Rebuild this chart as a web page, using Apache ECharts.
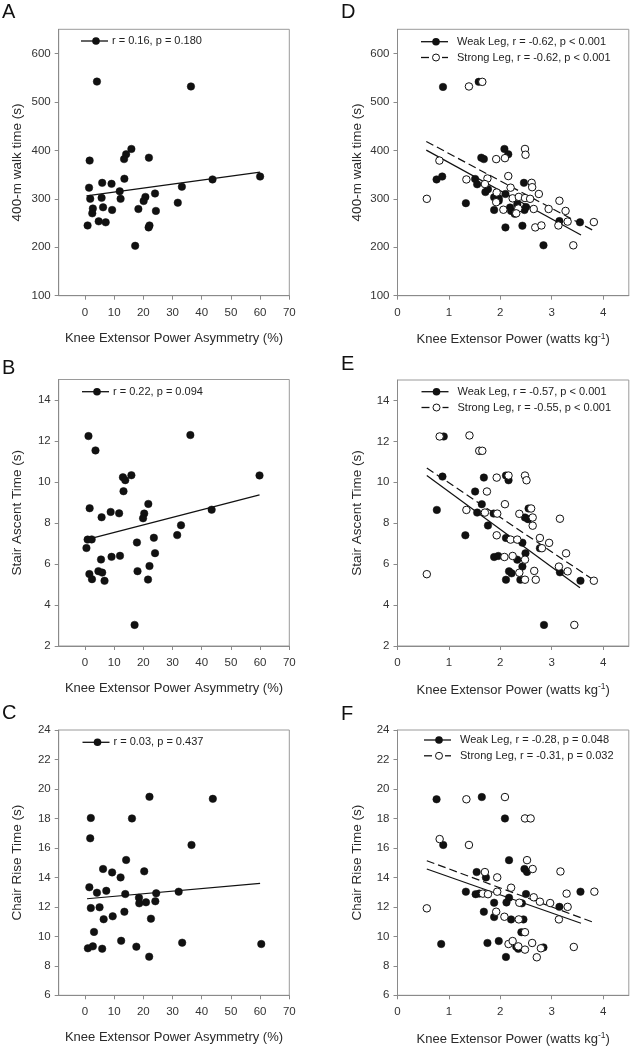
<!DOCTYPE html>
<html><head><meta charset="utf-8">
<script src="https://cdn.jsdelivr.net/npm/echarts@6/dist/echarts.min.js"></script>
<style>html,body{margin:0;padding:0;background:#fff}#c{width:631px;height:1050px}</style>
</head><body><div id="c"></div>
<script>
// ---------- tick labels ----------
const xTicksAsym = [0, 10, 20, 30, 40, 50, 60, 70];
const xTicksPower = [0, 1, 2, 3, 4];
const yTicksWalk = [100, 200, 300, 400, 500, 600];
const yTicksStair = [2, 4, 6, 8, 10, 12, 14];
const yTicksChair = [6, 8, 10, 12, 14, 16, 18, 20, 22, 24];

// ---------- texts ----------
const panelLetters = ['A', 'B', 'C', 'D', 'E', 'F'];
const xTitleAsym = 'Knee Extensor Power Asymmetry (%)';
const xTitlePower = '{b|Knee Extensor Power (watts kg}{sup|-1}{b|)}';
const yTitles = ['400-m walk time (s)', 'Stair Ascent Time (s)', 'Chair Rise Time (s)'];
const legendAsym = ['r = 0.16, p = 0.180', 'r = 0.22, p = 0.094', 'r = 0.03, p = 0.437'];
const legendWeak = ['Weak Leg, r = -0.62, p < 0.001', 'Weak Leg, r = -0.57, p < 0.001', 'Weak Leg, r = -0.28, p = 0.048'];
const legendStrong = ['Strong Leg, r = -0.62, p < 0.001', 'Strong Leg, r = -0.55, p < 0.001', 'Strong Leg, r = -0.31, p = 0.032'];

// ---------- panel A: asymmetry (%) vs 400-m walk time (s) ----------
const asymWalk = [[4.1,542],[36.3,532],[1.6,379],[15.9,403],[14.1,392],[13.4,382],[21.9,385],[13.5,341.5],[1.4,323],[5.9,333],[9.1,331],[11.9,315.5],[12.2,300],[1.8,300],[5.7,302],[20.7,304],[20.1,295.5],[24.0,311],[2.7,280],[2.5,270],[6.2,282.5],[9.3,277],[18.3,279],[24.3,275],[31.8,292],[33.2,325],[4.7,253.5],[7.1,251.5],[0.9,245],[22.1,245],[21.8,241],[17.2,203],[43.7,340],[60.0,346]];
const fitAsymWalk = [[0.5,306],[60,355]];

// ---------- panel B: asymmetry vs stair ascent time ----------
const asymStair = [[1.2,12.24],[36.1,12.29],[3.6,11.54],[15.9,10.33],[13.0,10.23],[13.8,10.09],[13.2,9.55],[59.8,10.32],[1.6,8.72],[21.7,8.93],[20.3,8.46],[19.9,8.23],[8.8,8.54],[11.7,8.47],[5.7,8.28],[43.4,8.65],[32.9,7.89],[31.6,7.41],[23.6,7.28],[17.8,7.05],[0.9,7.19],[2.3,7.2],[0.5,6.78],[5.5,6.22],[9.1,6.35],[12.0,6.4],[24.0,6.53],[1.5,5.51],[2.4,5.26],[4.6,5.65],[5.9,5.58],[6.7,5.18],[18.0,5.65],[22.1,5.9],[21.6,5.24],[17.0,3.03]];
const fitAsymStair = [[0.5,7.19],[59.8,9.37]];

// ---------- panel C: asymmetry vs chair rise time ----------
const asymChair = [[1.8,16.65],[14.1,15.18],[6.2,14.57],[9.3,14.34],[12.2,14.0],[20.3,14.41],[1.5,13.33],[4.1,12.96],[7.3,13.09],[13.8,12.87],[18.5,12.62],[18.6,12.24],[20.9,12.31],[24.4,12.92],[24.1,12.38],[32.1,13.03],[2.0,11.92],[5.0,11.97],[13.5,11.67],[9.5,11.36],[6.4,11.16],[22.6,11.2],[3.1,10.3],[1.0,9.19],[2.7,9.32],[5.9,9.16],[12.4,9.7],[17.6,9.3],[22.0,8.62],[33.3,9.57],[2.0,18.03],[16.1,18.0],[22.1,19.47],[43.8,19.33],[36.5,16.2],[60.4,9.48]];
const fitAsymChair = [[0.7,12.55],[60,13.6]];

// ---------- panel D: power (W/kg) vs 400-m walk time ----------
const weakWalk = [[0.885,531],[1.58,541.5],[0.76,340],[0.87,346],[1.33,291],[1.63,385],[1.68,382],[2.08,403],[2.155,392],[2.46,333],[1.51,341],[1.55,330],[1.71,314],[1.76,320],[1.88,303],[1.97,301],[2.10,310],[1.88,277],[2.19,282],[2.21,275],[2.28,269],[2.47,277],[2.10,241],[2.43,244.5],[3.15,254],[3.55,251.5],[2.84,204],[2.33,289],[2.50,283],[1.97,296]];
const strongWalk = [[1.39,532],[1.65,541.5],[0.815,379],[0.57,300],[1.34,340],[1.92,382],[2.09,384],[2.48,403],[2.49,391],[2.155,347],[2.61,333],[2.62,324],[2.75,310],[1.75,342],[1.70,330.5],[1.93,313],[1.92,293],[2.20,323],[2.06,277.5],[2.24,301],[2.36,304],[2.48,301.6],[2.58,300],[2.35,280],[2.65,279],[2.31,270],[2.68,241],[2.80,245],[2.94,279],[3.15,296],[3.27,275],[3.13,245],[3.31,253],[3.82,252],[3.42,204]];
const fitWeakWalk = [[0.56,400.5],[3.57,225.5]];
const fitStrongWalk = [[0.56,418.5],[3.82,234]];

// ---------- panel E: power vs stair ascent time ----------
const weakStair = [[0.90,12.24],[1.60,11.54],[0.875,10.28],[1.68,10.23],[2.11,10.33],[2.16,10.1],[1.51,9.55],[0.765,8.65],[1.64,8.93],[1.55,8.52],[1.87,8.47],[2.48,8.28],[2.54,8.2],[2.55,8.72],[1.76,7.89],[1.32,7.41],[2.11,7.28],[2.43,7.05],[2.49,6.53],[2.77,6.78],[1.88,6.35],[1.96,6.4],[2.33,6.22],[2.43,5.88],[2.17,5.65],[2.22,5.55],[3.16,5.6],[2.11,5.24],[2.39,5.24],[3.56,5.19],[2.85,3.03]];
const strongStair = [[0.82,12.24],[1.40,12.29],[1.59,11.54],[1.65,11.54],[2.16,10.33],[1.93,10.23],[2.48,10.33],[2.51,10.1],[1.74,9.55],[2.09,8.93],[1.34,8.65],[1.70,8.52],[1.94,8.47],[2.37,8.46],[2.60,8.72],[2.63,8.28],[2.63,7.88],[3.16,8.22],[1.93,7.41],[2.20,7.2],[2.33,7.2],[2.77,7.28],[2.95,7.04],[2.81,6.78],[3.28,6.53],[2.08,6.35],[2.24,6.4],[2.48,6.22],[2.37,5.58],[2.66,5.67],[3.14,5.88],[3.31,5.65],[0.57,5.51],[2.48,5.24],[2.69,5.24],[3.82,5.19],[3.44,3.03]];
const fitWeakStair = [[0.57,10.33],[3.55,4.85]];
const fitStrongStair = [[0.57,10.7],[3.8,5.25]];

// ---------- panel F: power vs chair rise time ----------
const weakChair = [[0.76,19.3],[1.64,19.45],[2.09,18.0],[0.89,16.2],[2.17,15.17],[1.54,14.36],[1.72,14.0],[2.47,14.57],[2.52,14.37],[1.33,13.03],[1.52,12.86],[1.59,12.9],[2.50,12.87],[2.17,12.62],[2.12,12.3],[1.88,12.28],[2.42,12.24],[3.15,12.0],[3.56,13.03],[1.68,11.67],[1.88,11.31],[2.21,11.15],[2.45,11.15],[2.41,10.28],[0.85,9.48],[1.75,9.55],[1.97,9.68],[2.31,9.3],[2.35,9.15],[2.11,8.6],[2.84,9.25]];
const strongChair = [[1.34,19.3],[2.09,19.45],[2.48,18.0],[2.59,18.0],[0.82,16.6],[1.39,16.2],[2.52,15.17],[1.70,14.36],[1.94,14.0],[2.63,14.57],[3.17,14.4],[1.66,12.9],[1.76,12.86],[1.94,13.03],[2.21,13.3],[2.37,12.28],[2.65,12.65],[2.77,12.35],[2.97,12.26],[3.29,12.9],[3.31,12.0],[3.83,13.03],[0.57,11.9],[1.92,11.67],[2.08,11.33],[2.36,11.15],[3.14,11.15],[2.48,10.28],[2.16,9.48],[2.24,9.68],[2.35,9.32],[2.48,9.1],[2.62,9.55],[2.71,8.58],[2.79,9.19],[3.43,9.28]];
const fitWeakChair = [[0.57,14.57],[3.57,10.89]];
const fitStrongChair = [[0.57,15.13],[3.85,10.9]];

// ---------- build ----------
const FONT = 'Liberation Sans, Arial, sans-serif';
const INK = '#111';
const panels = [
  {grid:{left:58.7, top:29.3, width:230.6, height:266.4}, x:[-9,70,xTicksAsym], y:[100,650,yTicksWalk], yTitle:yTitles[0], xTitle:xTitleAsym, pts:[asymWalk], fits:[fitAsymWalk], legend:[legendAsym[0]], leg:{x:81, y:41}},
  {grid:{left:58.7, top:379.5, width:230.6, height:266.5}, x:[-9,70,xTicksAsym], y:[2,15,yTicksStair], yTitle:yTitles[1], xTitle:xTitleAsym, pts:[asymStair], fits:[fitAsymStair], legend:[legendAsym[1]], leg:{x:82, y:391.7}},
  {grid:{left:58.7, top:730, width:230.6, height:265.3}, x:[-9,70,xTicksAsym], y:[6,24,yTicksChair], yTitle:yTitles[2], xTitle:xTitleAsym, pts:[asymChair], fits:[fitAsymChair], legend:[legendAsym[2]], leg:{x:82.5, y:742.3}},
  {grid:{left:397.5, top:29.3, width:231.3, height:266.4}, x:[0,4.5,xTicksPower], y:[100,650,yTicksWalk], yTitle:yTitles[0], xTitle:xTitlePower, pts:[weakWalk, strongWalk], fits:[fitWeakWalk, fitStrongWalk], legend:[legendWeak[0], legendStrong[0]], leg:{x:421, y:41.7}},
  {grid:{left:397.5, top:380, width:231.3, height:266}, x:[0,4.5,xTicksPower], y:[2,15,yTicksStair], yTitle:yTitles[1], xTitle:xTitlePower, pts:[weakStair, strongStair], fits:[fitWeakStair, fitStrongStair], legend:[legendWeak[1], legendStrong[1]], leg:{x:421.5, y:391.7}},
  {grid:{left:397.5, top:730, width:231.3, height:265.3}, x:[0,4.5,xTicksPower], y:[6,24,yTicksChair], yTitle:yTitles[2], xTitle:xTitlePower, pts:[weakChair, strongChair], fits:[fitWeakChair, fitStrongChair], legend:[legendWeak[2], legendStrong[2]], leg:{x:424, y:740}}
];

const grid = [], xAxis = [], yAxis = [], series = [], graphic = [];
const letterPos = [[2,2],[2,358],[2,703],[341,2],[341,354],[341,704]];

panels.forEach((p, i) => {
  grid.push(Object.assign({show:true, borderColor:'#9a9a9a', borderWidth:1, backgroundColor:'#fff'}, p.grid));
  const axisCommon = {
    type:'value', gridIndex:i, nameLocation:'middle', splitLine:{show:false},
    axisLine:{show:true, onZero:false, lineStyle:{color:'#8a8a8a', width:1}},
  };
  xAxis.push(Object.assign({}, axisCommon, {
    min:p.x[0], max:p.x[1], name:p.xTitle, nameGap:36,
    nameTextStyle:{fontSize:13, color:'#2a2a2a', fontFamily:FONT,
      rich:{b:{fontSize:13, color:'#2a2a2a', fontFamily:FONT}, sup:{fontSize:8.5, color:'#2a2a2a', fontFamily:FONT, verticalAlign:'top', padding:[0,0,7,0]}}},
    axisTick:{show:true, length:4, customValues:p.x[2], lineStyle:{color:'#8a8a8a'}},
    axisLabel:{customValues:p.x[2], margin:11, fontSize:11.5, color:'#333', fontFamily:FONT}
  }));
  yAxis.push(Object.assign({}, axisCommon, {
    min:p.y[0], max:p.y[1], name:p.yTitle, nameGap:i < 3 ? 34 : 33,
    nameTextStyle:{fontSize:13.5, color:'#2a2a2a', fontFamily:FONT},
    axisTick:{show:true, length:4, customValues:p.y[2], lineStyle:{color:'#8a8a8a'}},
    axisLabel:{customValues:p.y[2], margin:8, fontSize:11.5, color:'#333', fontFamily:FONT}
  }));
  p.fits.forEach((f, k) => {
    series.push({type:'line', xAxisIndex:i, yAxisIndex:i, data:f, symbol:'none', silent:true, z:1,
      lineStyle:{color:INK, width:1.2, type: k === 0 ? 'solid' : [8,4]}});
  });
  p.pts.forEach((d, k) => {
    series.push({type:'scatter', xAxisIndex:i, yAxisIndex:i, data:d, symbol:'circle', symbolSize:7.5, z: 2 + k,
      itemStyle: k === 0 ? {color:INK, borderColor:INK, borderWidth:0.5, opacity:1} : {color:'#fff', borderColor:INK, borderWidth:1, opacity:1}});
  });
  // legend
  const L = p.leg;
  p.legend.forEach((label, k) => {
    const y = L.y + k * 15.8;
    if (k === 0) {
      graphic.push({type:'line', shape:{x1:L.x, y1:y, x2:L.x + 27, y2:y}, style:{stroke:INK, lineWidth:1.3}, z:10});
      graphic.push({type:'circle', shape:{cx:L.x + 15, cy:y, r:3.8}, style:{fill:INK}, z:11});
    } else {
      graphic.push({type:'line', shape:{x1:L.x, y1:y, x2:L.x + 8, y2:y}, style:{stroke:INK, lineWidth:1.3}, z:10});
      graphic.push({type:'line', shape:{x1:L.x + 21, y1:y, x2:L.x + 27, y2:y}, style:{stroke:INK, lineWidth:1.3}, z:10});
      graphic.push({type:'circle', shape:{cx:L.x + 15, cy:y, r:3.5}, style:{fill:'#fff', stroke:INK, lineWidth:1}, z:11});
    }
    graphic.push({type:'text', x:L.x + (i < 3 ? 31 : 36), y:y, z:11,
      style:{text:label, fill:'#222', font:'11px ' + FONT, textVerticalAlign:'middle', verticalAlign:'middle'}});
  });
  graphic.push({type:'text', x:letterPos[i][0], y:letterPos[i][1], z:11,
    style:{text:panelLetters[i], fill:'#111', font:'20px ' + FONT, verticalAlign:'top', textVerticalAlign:'top'}});
});

const chart = echarts.init(document.getElementById('c'), null, {renderer:'canvas'});
chart.setOption({animation:false, backgroundColor:'#fff', grid, xAxis, yAxis, series, graphic});
</script></body></html>
